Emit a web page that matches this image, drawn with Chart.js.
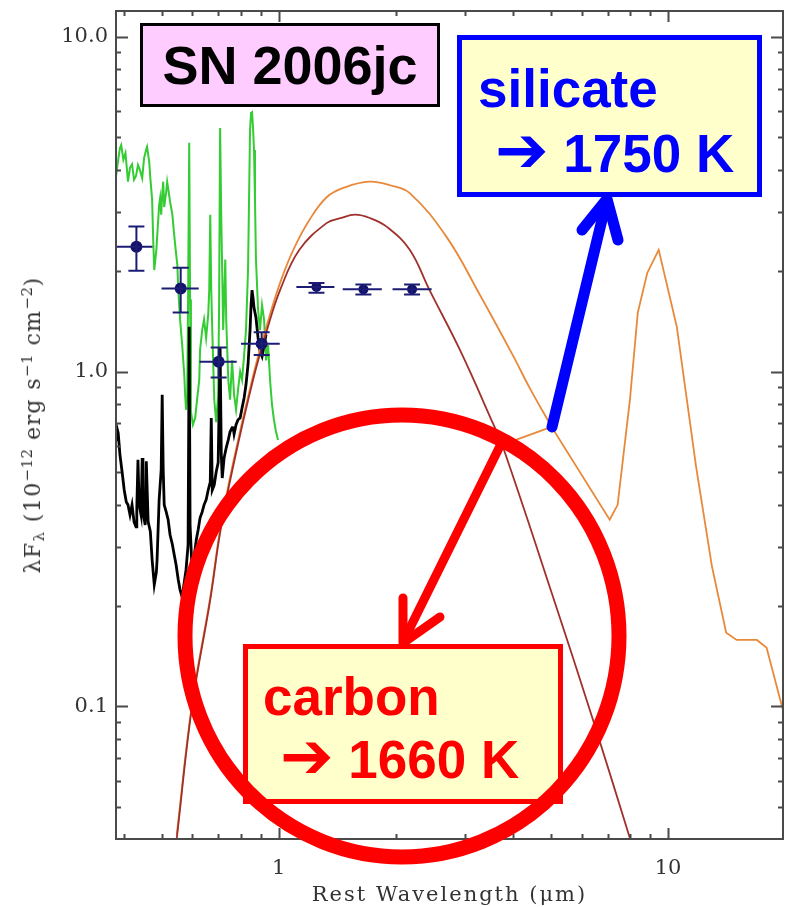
<!DOCTYPE html>
<html>
<head>
<meta charset="utf-8">
<title>SN 2006jc</title>
<script src="https://cdn.jsdelivr.net/npm/chart.js@4.4.1/dist/chart.umd.min.js"></script>
<style>
  html, body { margin: 0; padding: 0; background: #fff; overflow: hidden; }
  #wrap { position: relative; width: 789px; height: 907px; }
  #sedChart { position: absolute; left: 0; top: 0; }
  .axis-title { position: absolute; font-family: 'DejaVu Serif', serif; font-size: 21px; line-height: 21px; color: #333; white-space: nowrap; }
  .x-title { left: 449.5px; top: 884px; transform: translateX(-50%); letter-spacing: 2px; }
  .y-title { left: 32.5px; top: 425px; transform: translate(-50%, -50%) rotate(-90deg); font-size: 22px; line-height: 22px; letter-spacing: 1.4px; }
  .axis-title sup { font-size: 0.68em; vertical-align: 0; position: relative; top: -0.55em; line-height: 0; letter-spacing: 0.5px; }
  .axis-title sub { font-size: 0.68em; vertical-align: 0; position: relative; top: 0.3em; line-height: 0; }
  .note { position: absolute; box-sizing: border-box; font-family: 'Liberation Sans', Arial, sans-serif; font-weight: bold; white-space: nowrap; }
  .note .ln { position: absolute; font-size: 53px; line-height: 53px; }
  .note .arr { font-family: 'DejaVu Sans', sans-serif; font-size: 64px; line-height: 0; }
  .sn { left: 140px; top: 23px; width: 300px; height: 84px; border: 3px solid #000; background: #ffccff; color: #000;
        font-size: 54px; line-height: 54px; display: flex; align-items: center; justify-content: center; }
  .silicate { left: 457px; top: 35px; width: 305px; height: 162px; border: 5px solid #0000ff; background: #ffffcc; color: #0000ff; }
  .carbon { left: 243px; top: 644px; width: 320px; height: 160px; border: 5px solid #ff0000; background: #ffffcc; color: #ff0000; }
  #marks { position: absolute; left: 0; top: 0; pointer-events: none; }
</style>
</head>
<body>
<div id="wrap">
  <canvas id="sedChart" width="789" height="907"></canvas>
  <div class="axis-title x-title">Rest Wavelength (&mu;m)</div>
  <div class="axis-title y-title">&lambda;F<sub>&lambda;</sub> (10<sup>&minus;12</sup> erg s<sup>&minus;1</sup> cm<sup>&minus;2</sup>)</div>

  <div class="note sn">SN 2006jc</div>
  <div class="note silicate">
    <div class="ln" style="left:16px; top:22px;">silicate</div>
    <div class="ln" style="left:33px; top:87px;"><span class="arr">&#x2794;</span> 1750 K</div>
  </div>
  <div class="note carbon">
    <div class="ln" style="left:15px; top:21px;">carbon</div>
    <div class="ln" style="left:32px; top:84px;"><span class="arr">&#x2794;</span> 1660 K</div>
  </div>

  <svg id="marks" width="789" height="907">
    <ellipse cx="402" cy="636" rx="217" ry="221" fill="none" stroke="#ff0000" stroke-width="15"/>
    <g stroke="#ff0000" stroke-width="9" stroke-linecap="round" stroke-linejoin="round" fill="none">
      <line x1="501" y1="444" x2="404" y2="640"/>
      <polyline points="403,598 403,643 440,617"/>
    </g>
    <g stroke="#0000ff" stroke-width="11" stroke-linecap="round" stroke-linejoin="round" fill="none">
      <line x1="552" y1="427" x2="606" y2="203"/>
      <polyline points="582,230 607,199 618,240"/>
    </g>
  </svg>
</div>

<script>
// axis ranges and labelled ticks
const xMin = 0.382, xMax = 19.73;
const yMin = 0.0402, yMax = 11.93;
const xTickValues = [1, 10];
const xTickLabels = ['1', '10'];
const yTickValues = [0.1, 1, 10];
const yTickLabels = ['0.1', '1.0', '10.0'];

// early optical spectrum (green)
const greenWave = [0.382,0.387,0.391,0.394,0.399,0.404,0.408,0.410,0.415,0.420,
  0.425,0.430,0.435,0.440,0.446,0.451,0.457,0.459,0.465,0.468,
  0.473,0.476,0.479,0.485,0.487,0.493,0.496,0.499,0.502,0.505,
  0.508,0.514,0.517,0.523,0.526,0.533,0.536,0.542,0.549,0.552,
  0.558,0.565,0.572,0.575,0.578,0.582,0.585,0.589,0.592,0.595,
  0.602,0.610,0.617,0.625,0.628,0.636,0.643,0.651,0.659,0.663,
  0.667,0.671,0.675,0.683,0.691,0.699,0.703,0.707,0.712,0.716,
  0.720,0.724,0.729,0.733,0.742,0.750,0.759,0.768,0.777,0.786,
  0.796,0.805,0.815,0.824,0.834,0.839,0.844,0.849,0.854,0.859,
  0.864,0.869,0.874,0.885,0.895,0.906,0.917,0.928,0.939,0.950,
  0.961,0.972,0.984,0.996];
const greenFlux = [3.82,4.29,4.65,4.75,4.29,4.49,3.95,3.69,4.06,4.16,
  3.74,3.84,4.14,4.00,3.78,4.34,4.62,4.69,4.22,3.78,
  3.26,2.47,2.01,2.31,2.50,3.14,3.30,2.94,3.37,3.69,
  3.10,3.44,3.69,3.37,3.21,2.95,2.74,2.39,2.08,1.75,
  1.43,1.20,0.978,0.852,0.769,0.824,1.64,4.82,1.64,0.759,
  0.694,0.727,0.824,0.944,1.16,1.33,1.43,1.26,1.48,1.75,
  2.94,1.75,1.33,0.824,0.706,0.852,1.64,5.34,2.84,1.97,
  1.33,1.64,2.16,1.43,0.944,0.824,1.08,0.852,0.769,0.882,
  1.00,0.944,1.12,1.33,2.01,3.26,5.27,5.92,5.95,5.34,
  4.59,3.26,2.16,1.53,1.33,1.58,1.43,1.08,1.20,0.944,
  0.796,0.718,0.661,0.625];

// later optical spectrum (black)
const blackWave = [0.382,0.384,0.387,0.391,0.396,0.401,0.406,0.410,0.415,0.420,
  0.425,0.430,0.432,0.435,0.438,0.443,0.446,0.448,0.454,0.457,
  0.462,0.468,0.473,0.479,0.485,0.487,0.493,0.499,0.502,0.505,
  0.508,0.514,0.520,0.526,0.533,0.539,0.545,0.552,0.558,0.565,
  0.572,0.578,0.585,0.589,0.592,0.599,0.606,0.614,0.621,0.628,
  0.636,0.643,0.651,0.659,0.667,0.671,0.675,0.683,0.691,0.699,
  0.707,0.712,0.716,0.724,0.733,0.742,0.750,0.759,0.763,0.768,
  0.777,0.786,0.796,0.805,0.815,0.824,0.834,0.844,0.849,0.854,
  0.859,0.864,0.874,0.885,0.895,0.906,0.917,0.928];
const blackFlux = [0.625,0.680,0.656,0.565,0.502,0.443,0.408,0.400,0.373,0.400,
  0.356,0.344,0.392,0.545,0.400,0.373,0.552,0.381,0.348,0.540,
  0.356,0.333,0.274,0.231,0.252,0.274,0.414,0.509,0.852,0.509,
  0.400,0.381,0.361,0.325,0.305,0.284,0.265,0.239,0.223,0.212,
  0.235,0.256,0.303,1.36,0.348,0.256,0.278,0.314,0.337,0.366,
  0.381,0.400,0.414,0.443,0.468,0.727,0.443,0.459,0.502,0.535,
  1.18,0.565,0.481,0.552,0.592,0.625,0.661,0.680,0.685,0.651,
  0.694,0.718,0.727,0.779,0.835,0.913,1.05,1.33,1.58,1.75,
  1.66,1.55,1.45,1.26,1.15,1.11,1.20,1.29];

// carbon dust model (dark red)
const carbonWave = [0.547,0.599,0.667,0.707,0.763,0.859,0.933,1.008,1.13,1.33,1.44,1.57,1.72,1.90,2.17,2.44,2.92,3.55,3.77,5.06,6.41,7.98];
const carbonFlux = [0.0402,0.100,0.208,0.330,0.519,0.944,1.33,1.75,2.31,2.78,2.87,2.94,2.87,2.70,2.31,1.75,1.16,0.70,0.593,0.213,0.0914,0.0404];

// silicate dust model (orange): smooth hump and coarse mid-IR part
const silicateWave = [0.547,0.599,0.667,0.707,0.763,0.859,0.933,1.008,1.09,1.20,1.33,1.48,1.71,1.93,2.17,2.70,3.29,4.00,4.41,5.02];
const silicateFlux = [0.0413,0.102,0.212,0.337,0.533,0.97,1.38,1.84,2.31,2.84,3.32,3.55,3.69,3.60,3.41,2.52,1.69,1.114,0.894,0.684];
const silicateIrWave = [3.63,5.02,7.08,7.42,7.98,8.36,8.84,9.46,10.53,11.8,12.96,14.1,15.0,16.9,17.9,19.7];
const silicateIrFlux = [0.596,0.684,0.361,0.400,0.824,1.50,1.97,2.31,1.36,0.520,0.262,0.166,0.158,0.158,0.150,0.098];

// photometry with error bars
const photWave   = [0.431,0.560,0.701,0.904,1.25,1.65,2.20];
const photFlux   = [2.36,1.77,1.07,1.21,1.79,1.76,1.76];
const photWaveLo = [0.383,0.500,0.626,0.800,1.11,1.46,1.96];
const photWaveHi = [0.474,0.623,0.780,1.006,1.39,1.84,2.47];
const photFluxLo = [2.00,1.50,0.96,1.12,1.72,1.70,1.70];
const photFluxHi = [2.71,2.04,1.18,1.31,1.84,1.82,1.82];

const toPoints = (xs, ys) => xs.map((x, i) => ({ x, y: ys[i] }));

function logTicks(min, max) {
  const out = [];
  for (let e = Math.floor(Math.log10(min)); e <= Math.ceil(Math.log10(max)); e++) {
    for (let m = 1; m <= 9; m++) {
      const v = m * Math.pow(10, e);
      if (v >= min && v <= max) out.push(v);
    }
  }
  return out;
}
const isDecade = v => Math.abs(Math.log10(v) - Math.round(Math.log10(v))) < 1e-9;

// IDL style box with inward ticks on all four sides
const axisFrame = {
  id: 'axisFrame',
  afterDatasetsDraw(chart) {
    const { ctx, chartArea: a, scales: { x, y } } = chart;
    ctx.save();
    ctx.strokeStyle = '#4a4a4a';
    ctx.lineWidth = 2;
    ctx.strokeRect(a.left, a.top, a.right - a.left, a.bottom - a.top);
    ctx.beginPath();
    logTicks(xMin, xMax).forEach(v => {
      const px = Math.round(x.getPixelForValue(v)) + 0.5;
      const len = isDecade(v) ? 11 : 5;
      ctx.moveTo(px, a.bottom); ctx.lineTo(px, a.bottom - len);
      ctx.moveTo(px, a.top);    ctx.lineTo(px, a.top + len);
    });
    logTicks(yMin, yMax).forEach(v => {
      const py = Math.round(y.getPixelForValue(v)) + 0.5;
      const len = isDecade(v) ? 12 : 5;
      ctx.moveTo(a.left, py);  ctx.lineTo(a.left + len, py);
      ctx.moveTo(a.right, py); ctx.lineTo(a.right - len, py);
    });
    ctx.stroke();
    ctx.restore();
  }
};

const errorBars = {
  id: 'errorBars',
  afterDatasetsDraw(chart) {
    const { ctx, scales: { x, y } } = chart;
    ctx.save();
    ctx.strokeStyle = '#1c1c74';
    ctx.lineWidth = 2;
    ctx.beginPath();
    photWave.forEach((w, i) => {
      const px = x.getPixelForValue(w);
      const py = y.getPixelForValue(photFlux[i]);
      const xl = x.getPixelForValue(photWaveLo[i]);
      const xh = x.getPixelForValue(photWaveHi[i]);
      const yl = y.getPixelForValue(photFluxLo[i]);
      const yh = y.getPixelForValue(photFluxHi[i]);
      ctx.moveTo(xl, py); ctx.lineTo(xh, py);
      ctx.moveTo(px, yl); ctx.lineTo(px, yh);
      ctx.moveTo(px - 8, yl); ctx.lineTo(px + 8, yl);
      ctx.moveTo(px - 8, yh); ctx.lineTo(px + 8, yh);
    });
    ctx.stroke();
    ctx.restore();
  }
};

const tickFont = { family: "'DejaVu Serif', serif", size: 21 };

new Chart(document.getElementById('sedChart').getContext('2d'), {
  type: 'line',
  data: {
    datasets: [
      {
        type: 'scatter',
        data: toPoints(photWave, photFlux),
        backgroundColor: '#12126a',
        borderWidth: 0,
        pointRadius: [6, 6, 6, 6, 5, 5, 5]
      },
      {
        data: toPoints(carbonWave, carbonFlux),
        borderColor: '#a0302c', borderWidth: 1.8,
        pointRadius: 0, tension: 0.4
      },
      {
        data: toPoints(silicateWave, silicateFlux),
        borderColor: '#e8893a', borderWidth: 1.8,
        pointRadius: 0, tension: 0.4
      },
      {
        data: toPoints(silicateIrWave, silicateIrFlux),
        borderColor: '#e8893a', borderWidth: 1.8,
        pointRadius: 0, tension: 0
      },
      {
        data: toPoints(blackWave, blackFlux),
        borderColor: '#000000', borderWidth: 2.8,
        pointRadius: 0, tension: 0
      },
      {
        data: toPoints(greenWave, greenFlux),
        borderColor: '#33cc33', borderWidth: 2,
        pointRadius: 0, tension: 0
      }
    ]
  },
  options: {
    responsive: false,
    animation: false,
    events: [],
    layout: { padding: { top: 11, right: 6, bottom: 0, left: 0 } },
    plugins: { legend: { display: false }, tooltip: { enabled: false } },
    scales: {
      x: {
        type: 'logarithmic',
        min: xMin, max: xMax,
        grid: { display: false, drawTicks: false },
        border: { display: false },
        afterBuildTicks: axis => { axis.ticks = xTickValues.map(value => ({ value })); },
        afterFit: axis => { axis.height = 68; axis.paddingLeft = 0; axis.paddingRight = 0; },
        ticks: {
          autoSkip: false, maxRotation: 0, padding: 17,
          color: '#333', font: tickFont,
          callback: value => xTickLabels[xTickValues.indexOf(value)] ?? ''
        }
      },
      y: {
        type: 'logarithmic',
        min: yMin, max: yMax,
        grid: { display: false, drawTicks: false },
        border: { display: false },
        afterBuildTicks: axis => { axis.ticks = yTickValues.map(value => ({ value })); },
        afterFit: axis => { axis.width = 116; axis.paddingTop = 0; axis.paddingBottom = 0; },
        ticks: {
          autoSkip: false, padding: 8,
          color: '#333', font: tickFont,
          callback: value => yTickLabels[yTickValues.indexOf(value)] ?? ''
        }
      }
    }
  },
  plugins: [errorBars, axisFrame]
});
</script>
</body>
</html>
